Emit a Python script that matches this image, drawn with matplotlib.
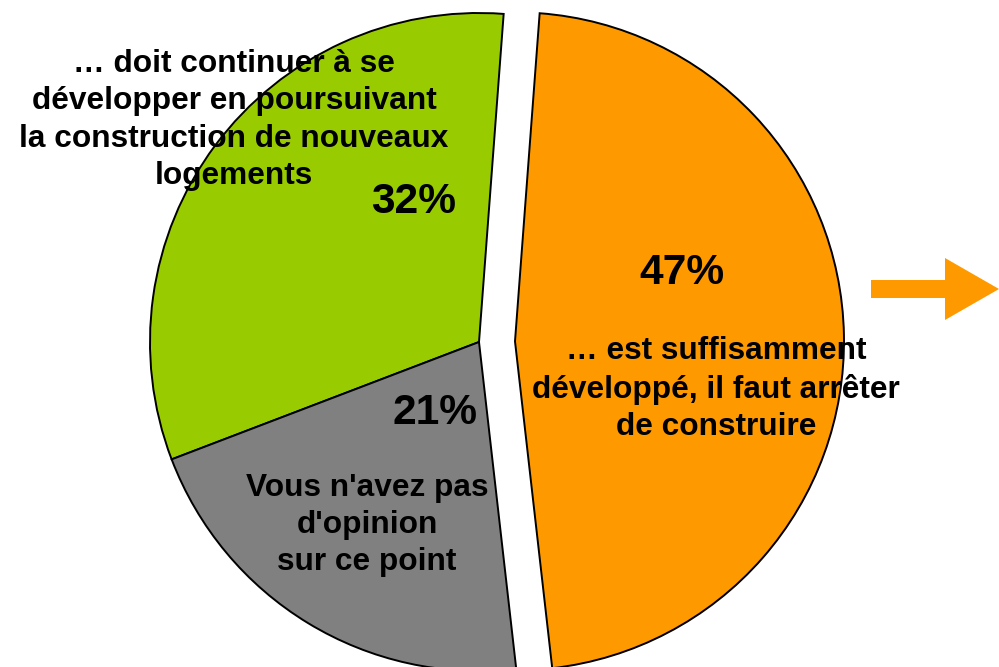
import matplotlib
matplotlib.use('Agg')
import matplotlib.pyplot as plt

# data
parts = ['suffisamment développé', 'continuer à se développer', 'pas d\'opinion']
values = [47, 32, 21]
colors = ['#FF9900', '#99CC00', '#808080']
labels = ["… est suffisamment\ndéveloppé, il faut arrêter\nde construire",
          "… doit continuer à se\ndévelopper en poursuivant\nla construction de nouveaux\nlogements",
          "Vous n'avez pas\nd'opinion\nsur ce point"]

plt.rcParams['font.family'] = ['Liberation Sans', 'DejaVu Sans']

fig = plt.figure(figsize=(9.99, 6.67), dpi=100)
ax = fig.add_axes([0, 0, 1, 1])

H = 667
cx, cy, r = 479, H - 342, 329
# pie explode is in data units here (pixels)
explode = [36, 0, 0]

start = 85.7 - values[0] / 100 * 360
ax.pie(values, colors=colors, explode=explode, startangle=start,
       counterclock=True, center=(cx, cy), radius=r, frame=True,
       wedgeprops=dict(edgecolor='black', linewidth=1.4))
ax.set_xlim(0, 999)
ax.set_ylim(0, 667)
ax.set_aspect('equal')
ax.axis('off')

# percentages
pct_pos = [(682, 273), (414, 202), (435, 413)]
for v, (x, y) in zip(values, pct_pos):
    ax.text(x, H - y, f'{v}%', fontsize=30.6, fontweight='bold',
            ha='center', va='center')

# category labels
lab_pos = [(716, 389), (234, 120), (367, 525)]
for t, (x, y) in zip(labels, lab_pos):
    ax.text(x, H - y, t, fontsize=22.8, fontweight='bold', ha='center',
            va='center', multialignment='center', linespacing=1.32)

# orange arrow
ax.arrow(871, H - 289, 128, 0, width=18, head_width=62, head_length=54,
         length_includes_head=True, color='#FF9900', linewidth=0)

fig.savefig('out.png', dpi=100)
